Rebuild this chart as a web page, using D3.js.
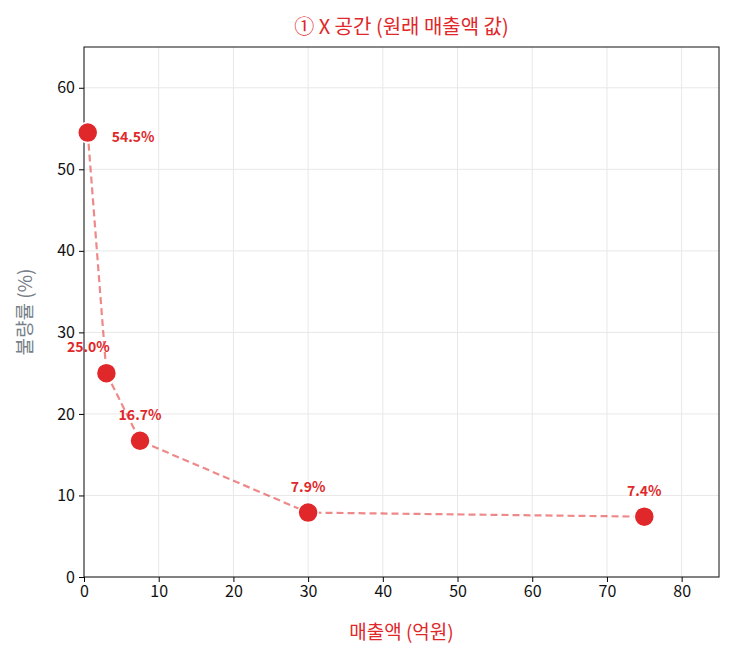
<!DOCTYPE html>
<html><head><meta charset="utf-8">
<script src="https://cdn.jsdelivr.net/npm/d3@7"></script>
<style>body{margin:0;background:#fff;font-family:"Noto Sans CJK KR","Noto Sans",sans-serif}</style>
</head><body><div id="chart"></div>
<script>
const sales = [0.5, 3, 7.5, 30, 75];
const badRate = [54.5, 25.0, 16.7, 7.9, 7.4];
const labels = ["54.5%", "25.0%", "16.7%", "7.9%", "7.4%"];
const xTicks = [0, 10, 20, 30, 40, 50, 60, 70, 80];
const yTicks = [0, 10, 20, 30, 40, 50, 60];

const W = 734, H = 660, m = {l: 84, r: 15, t: 47, b: 83};
const red = "#e0282a";
const svg = d3.select("#chart").append("svg").attr("width", W).attr("height", H);
const x = d3.scaleLinear().domain([0, 85]).range([m.l, W - m.r]);
const y = d3.scaleLinear().domain([0, 65]).range([H - m.b, m.t]);

const g = svg.append("g");
g.selectAll(".gx").data(xTicks).enter().append("line")
  .attr("x1", d => x(d)).attr("x2", d => x(d)).attr("y1", m.t).attr("y2", H - m.b)
  .attr("stroke", "#e8e8e8");
g.selectAll(".gy").data(yTicks).enter().append("line")
  .attr("y1", d => y(d)).attr("y2", d => y(d)).attr("x1", m.l).attr("x2", W - m.r)
  .attr("stroke", "#e8e8e8");

const xa = svg.append("g").attr("transform", `translate(0,${H - m.b})`)
  .call(d3.axisBottom(x).tickValues(xTicks).tickSizeOuter(0).tickSize(5).tickPadding(4));
const ya = svg.append("g").attr("transform", `translate(${m.l},0)`)
  .call(d3.axisLeft(y).tickValues(yTicks).tickSizeOuter(0).tickSize(5).tickPadding(4));
[xa, ya].forEach(a => {
  a.selectAll("text").attr("font-size", 16).attr("fill", "#111").attr("font-family", "Noto Sans CJK KR");
  a.select(".domain").remove();
});
svg.append("rect").attr("x", m.l).attr("y", m.t).attr("width", W - m.r - m.l).attr("height", H - m.b - m.t)
  .attr("fill", "none").attr("stroke", "#111");

const pts = sales.map((s, i) => [s, badRate[i]]);
svg.append("path").datum(pts)
  .attr("d", d3.line().x(d => x(d[0])).y(d => y(d[1])))
  .attr("fill", "none").attr("stroke", red).attr("stroke-opacity", 0.55)
  .attr("stroke-width", 2.2).attr("stroke-dasharray", "7,4");
svg.selectAll(".pt").data(pts).enter().append("circle")
  .attr("cx", d => x(d[0])).attr("cy", d => y(d[1])).attr("r", 10)
  .attr("fill", red).attr("stroke", "#fff").attr("stroke-width", 1.5);
svg.selectAll(".lb").data(pts).enter().append("text")
  .attr("x", (d, i) => i === 0 ? x(d[0]) + 24 : i === 1 ? x(d[0]) - 18 : x(d[0]))
  .attr("y", (d, i) => i === 0 ? y(d[1]) + 9 : y(d[1]) - 21)
  .attr("text-anchor", (d, i) => i === 0 ? "start" : "middle")
  .attr("font-size", 14).attr("font-weight", "bold").attr("fill", red)
  .text((d, i) => labels[i]);

svg.append("text").attr("x", (m.l + W - m.r) / 2).attr("y", 34).attr("text-anchor", "middle")
  .attr("font-size", 20).attr("fill", red).text("① X 공간 (원래 매출액 값)");
svg.append("text").attr("x", (m.l + W - m.r) / 2).attr("y", 639).attr("text-anchor", "middle")
  .attr("font-size", 19).attr("fill", red).text("매출액 (억원)");
svg.append("text").attr("transform", `translate(32,${(m.t + H - m.b) / 2}) rotate(-90)`)
  .attr("text-anchor", "middle").attr("font-size", 19).attr("fill", "#778088").text("불량률 (%)");
</script></body></html>
